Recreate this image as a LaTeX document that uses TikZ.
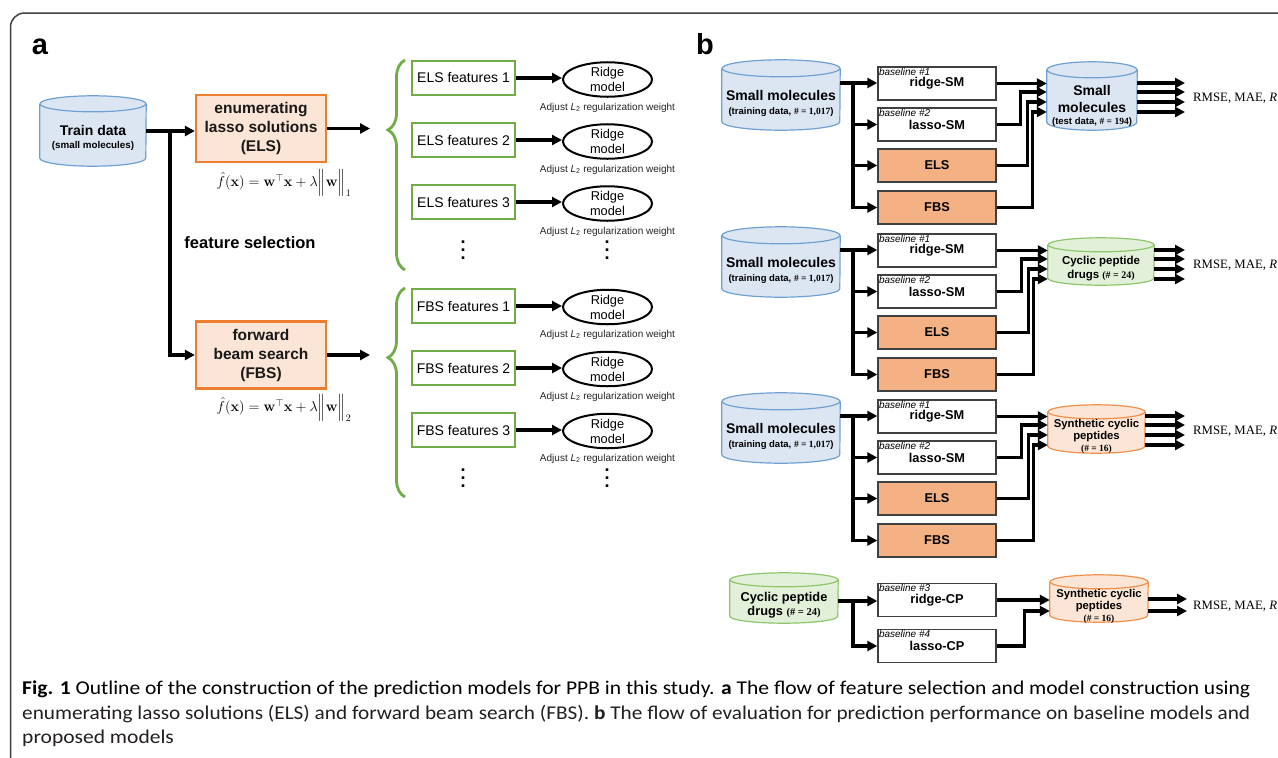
\documentclass[tikz,border=0pt]{standalone}
\usepackage[no-math]{fontspec}
\setmainfont{Liberation Sans}
\newfontfamily\tms{Liberation Serif}
\newfontfamily\capfont{Carlito}
\usepackage{amsmath}
\usepackage{graphicx}
\usetikzlibrary{arrows.meta,calc,decorations.pathreplacing,shapes.geometric}
\definecolor{cylblue}{HTML}{DCE6F2}
\definecolor{cylblueD}{HTML}{6FA0D4}
\definecolor{orgL}{HTML}{FBE5D6}
\definecolor{orgD}{HTML}{ED7D31}
\definecolor{orgM}{HTML}{F4B183}
\definecolor{grnL}{HTML}{E2F0D9}
\definecolor{grnD}{HTML}{70AD47}
\definecolor{grnC}{HTML}{8DC66B}
\definecolor{cylorgD}{HTML}{F0904C}
\definecolor{captxt}{HTML}{231F20}
\newcommand\fs[2]{\fontsize{#1}{#2}\selectfont}
\newsavebox\capboxA
% cylinder: name, cx, cy, width, height, ry, style
\newcommand\cyl[7]{%
  \node[inner sep=0, minimum width=#4pt, minimum height=#5pt] (#1) at (#2,#3) {};
  \path[#7, draw=none] ($(#1.north west)+(0,#6)$) -- ($(#1.south west)+(0,-#6)$) arc[start angle=180, end angle=0, x radius=#4/2, y radius=#6] -- ($(#1.north east)+(0,#6)$) -- cycle;
  \draw[#7, fill=none] ($(#1.north west)+(0,#6)$) -- ($(#1.south west)+(0,-#6)$) arc[start angle=180, end angle=0, x radius=#4/2, y radius=#6] -- ($(#1.north east)+(0,#6)$);
  \path[#7] ($(#1.north)+(0,#6)$) ellipse[x radius=#4/2, y radius=#6];
}
\tikzset{
 arr/.style={line width=3.3pt, -{Triangle[length=10pt,width=10pt]}},
 outerframe/.style={draw=black!75, line width=1.5pt, rounded corners=14pt},
 elsbox/.style={draw=orgD, fill=orgL, line width=2.2pt, minimum width=130pt, minimum height=67pt, align=center, font=\fs{15.5}{19}\bfseries, inner sep=0, text=black!90},
 featbox/.style={draw=grnD, line width=2.4pt, minimum width=103pt, minimum height=34pt, inner sep=0, font=\fs{14}{16}},
 ridge/.style={ellipse, draw, line width=2pt, minimum width=89pt, minimum height=32pt, inner sep=0, align=center, font=\fs{12.8}{15}},
 adj/.style={font=\fs{10}{12}, text=black!85},
 bbox/.style={draw=black!75, line width=1.4pt, minimum width=118pt, minimum height=33pt, inner sep=0, font=\fs{12.8}{15}\bfseries},
 pbox/.style={bbox, fill=orgM},
 basel/.style={anchor=north west, inner sep=1.5pt, font=\fs{10}{11}\itshape},
 brc/.style={draw=grnD, line width=2.8pt, decorate, decoration={brace, amplitude=17pt, aspect=0.667}},
 bluecyl/.style={fill=cylblue, draw=cylblueD, line width=1.2pt},
 greencyl/.style={fill=grnL, draw=grnC, line width=1.2pt},
 orangecyl/.style={fill=orgL, draw=cylorgD, line width=1.2pt},
 lbl/.style={font=\fs{29}{30}\bfseries},
 captionline/.style={anchor=base west, inner sep=0, text=captxt},
 vdotsnode/.style={align=center, inner sep=0, font=\fs{18}{8}\bfseries},
}
\begin{document}
\sbox\capboxA{\capfont\fs{19.5}{22}\textbf{Fig. 1} Outline of the construction of the prediction models for PPB in this study. \textbf{a} The flow of feature selection and model construction using}%
\pgfmathsetmacro\capsc{1228/\wd\capboxA}%
\begin{tikzpicture}[x=1pt,y=-1pt]
\useasboundingbox (0,0) rectangle (1278,758);
\fill[white] (0,0) rectangle (1278,758);
\draw[outerframe] (10.5,800) -- (10.5,13) -- (1300,13);

\node[lbl] (la) at (40,47) {a};
\node[lbl] (lb) at (705,44) {b};

% ---------- panel a ----------
\cyl{train}{93}{131}{106}{70}{8}{bluecyl}
\node[font=\fs{14}{16}\bfseries] (traintA) at (93,130) {Train data};
\node[font=\fs{9.8}{12}\bfseries] (traintB) at (93,146) {(small molecules)};

\node[elsbox] (els) at (261,128.5) {enumerating\\lasso solutions\\(ELS)};
\node[elsbox] (fbs) at (261,355) {forward\\beam search\\(FBS)};

\coordinate (j0) at (170,131);
\draw[arr] (train.east) -- (train.east -| els.west);
\draw[arr] (j0) |- (fbs.west);

\node (f1) at (284,183) {\fs{14.4}{17}$\hat{f}(\mathbf{x})=\mathbf{w}^{\top}\mathbf{x}+\lambda\Big\|\mathbf{w}\Big\|_1$};
\node (f2) at (284,408) {\fs{14.4}{17}$\hat{f}(\mathbf{x})=\mathbf{w}^{\top}\mathbf{x}+\lambda\Big\|\mathbf{w}\Big\|_2$};

\node[font=\fs{16.5}{18}\bfseries] (fsel) at (250,243) {feature selection};

\coordinate (e1) at (370,128.5);
\coordinate (e2) at (370,355);
\draw[arr] (els.east) -- (e1);
\draw[arr] (fbs.east) -- (e2);

\draw[brc] (405,270) -- (405,60);
\draw[brc] (405,497) -- (405,288);

\foreach \i/\y in {1/78,2/140,3/202} {
  \node[featbox] (ef\i) at (463.5,\y) {ELS features \i};
  \node[ridge] (er\i) at (607.5,\y+1.5) {Ridge\\model};
  \draw[arr] (ef\i.east) -- (ef\i.east -| er\i.west);
  \node[adj] (ea\i) at (607.5,\y+29.5) {Adjust \textit{L}\textsubscript{2} regularization weight};
}
\foreach \i/\y in {1/306,2/368,3/430} {
  \node[featbox] (ff\i) at (463.5,\y) {FBS features \i};
  \node[ridge] (fr\i) at (607.5,\y+1) {Ridge\\model};
  \draw[arr] (ff\i.east) -- (ff\i.east -| fr\i.west);
  \node[adj] (fa\i) at (607.5,\y+28.5) {Adjust \textit{L}\textsubscript{2} regularization weight};
}
\node[vdotsnode] (ed1) at (463,250) {.\\.\\.};
\node[vdotsnode] (ed2) at (607,250) {.\\.\\.};
\node[vdotsnode] (fd1) at (463,478) {.\\.\\.};
\node[vdotsnode] (fd2) at (607,478) {.\\.\\.};

% ---------- panel b ----------
\foreach \g/\d in {1/0,2/167,3/333} {
  \cyl{sm\g}{781}{95+\d}{118}{70}{8.5}{bluecyl}
  \node[font=\fs{14}{16}\bfseries] (smA\g) at (781,95+\d) {Small molecules};
  \node[font=\fs{9.5}{11}\bfseries] (smB\g) at (781,112+\d) {(training data, {\tms\# = 1,017})};
  \node[bbox] (r\g) at (937,83.5+\d) {ridge-SM};
  \node[basel] (rb\g) at (r\g.north west) {baseline \#1};
  \node[bbox] (l\g) at (937,124.5+\d) {lasso-SM};
  \node[basel] (lb\g) at (l\g.north west) {baseline \#2};
  \node[pbox] (e\g) at (937,165.5+\d) {ELS};
  \node[pbox] (f\g) at (937,207.5+\d) {FBS};
  \coordinate (j\g) at (853,83+\d);
  \draw[arr] (sm\g.east |- j\g) -- (j\g -| r\g.west);
  \draw[arr] (j\g) |- (l\g.west);
  \draw[arr] (j\g) |- (e\g.west);
  \draw[arr] (j\g) |- (f\g.west);
}

\cyl{tc1}{1092}{96}{90}{68}{8}{bluecyl}
\node[font=\fs{14}{16}\bfseries] (tc1A) at (1092,90) {Small};
\node[font=\fs{14}{16}\bfseries] (tc1B) at (1092,107) {molecules};
\node[font=\fs{9.5}{11}\bfseries] (tc1C) at (1092,122) {(test data, {\tms\# = 194})};

\cyl{tc2}{1101}{261.5}{106}{47}{7}{greencyl}
\node[font=\fs{11.5}{13}\bfseries] (tc2A) at (1101,262) {Cyclic peptide};
\node[font=\fs{11.5}{13}\bfseries] (tc2B) at (1101,276) {drugs {\tms\fs{10}{12}(\# = 24)}};

\cyl{tc3}{1096.5}{429}{97}{48}{7}{orangecyl}
\node[font=\fs{11.3}{13}\bfseries] (tc3A) at (1096.5,425) {Synthetic cyclic};
\node[font=\fs{11.3}{13}\bfseries] (tc3B) at (1096.5,437) {peptides};
\node[font=\tms\fs{9.5}{11}\bfseries] (tc3C) at (1096.5,449) {(\# = 16)};

\foreach \g/\d in {1/0,2/167,3/333} {
  \draw[arr] (r\g.east) -- (r\g.east -| tc\g.west);
  \draw[arr] (l\g.east) -| ($(tc\g.west |- j\g)+(-26,9)$) -- ($(tc\g.west |- j\g)+(0,9)$);
  \draw[arr] (e\g.east) -| ($(tc\g.west |- j\g)+(-19,19)$) -- ($(tc\g.west |- j\g)+(0,19)$);
  \draw[arr] (f\g.east) -| ($(tc\g.west |- j\g)+(-14,29)$) -- ($(tc\g.west |- j\g)+(0,29)$);
  \coordinate (o\g) at (1185,83+\d);
  \foreach \k in {0,9,19,29} {
    \draw[arr] ($(tc\g.east |- o\g)+(0,\k)$) -- ($(o\g)+(0,\k)$);
  }
  \node[font=\tms\fs{12.8}{15}, anchor=west, inner sep=0] (m\g) at (1193,98+\d) {RMSE, MAE, \textit{R}};
}

% group 4
\cyl{cp}{784}{598}{108}{50}{7}{greencyl}
\node[font=\fs{12.8}{15}\bfseries] (cpA) at (784,598) {Cyclic peptide};
\node[font=\fs{12.8}{15}\bfseries] (cpB) at (784,612) {drugs {\tms\fs{10.5}{12}(\# = 24)}};
\node[bbox] (rc) at (937,600) {ridge-CP};
\node[basel] (rcb) at (rc.north west) {baseline \#3};
\node[bbox] (lc) at (937,646) {lasso-CP};
\node[basel] (lcb) at (lc.north west) {baseline \#4};
\coordinate (j4) at (853,601);
\draw[arr] (cp.east |- j4) -- (j4 -| rc.west);
\draw[arr] (j4) |- (lc.west);

\cyl{tc4}{1099}{598.5}{98}{47}{7}{orangecyl}
\node[font=\fs{11.3}{13}\bfseries] (tc4A) at (1099,595) {Synthetic cyclic};
\node[font=\fs{11.3}{13}\bfseries] (tc4B) at (1099,607) {peptides};
\node[font=\tms\fs{9.5}{11}\bfseries] (tc4C) at (1099,619) {(\# = 16)};
\draw[arr] (rc.east) -- (rc.east -| tc4.west);
\draw[arr] (lc.east) -| ($(tc4.west)+(-25,12.5)$) -- ($(tc4.west)+(0,12.5)$);
\coordinate (o4) at (1187,599);
\draw[arr] (tc4.east |- o4) -- (o4);
\draw[arr] ($(tc4.east |- o4)+(0,12)$) -- ($(o4)+(0,12)$);
\node[font=\tms\fs{12.8}{15}, anchor=west, inner sep=0] (m4) at (1193,606) {RMSE, MAE, \textit{R}};

% ---------- caption ----------
\node[captionline] (cap1) at (22,694) {\scalebox{\capsc}[1]{\usebox\capboxA}};
\node[captionline] (cap2) at (22,719) {\resizebox{1228pt}{\height}{\capfont\fs{19.5}{22}enumerating lasso solutions (ELS) and forward beam search (FBS). \textbf{b} The flow of evaluation for prediction performance on baseline models and}};
\node[captionline] (cap3) at (22,743) {\scalebox{\capsc}[1]{\capfont\fs{19.5}{22}proposed models}};
\end{tikzpicture}
\end{document}
